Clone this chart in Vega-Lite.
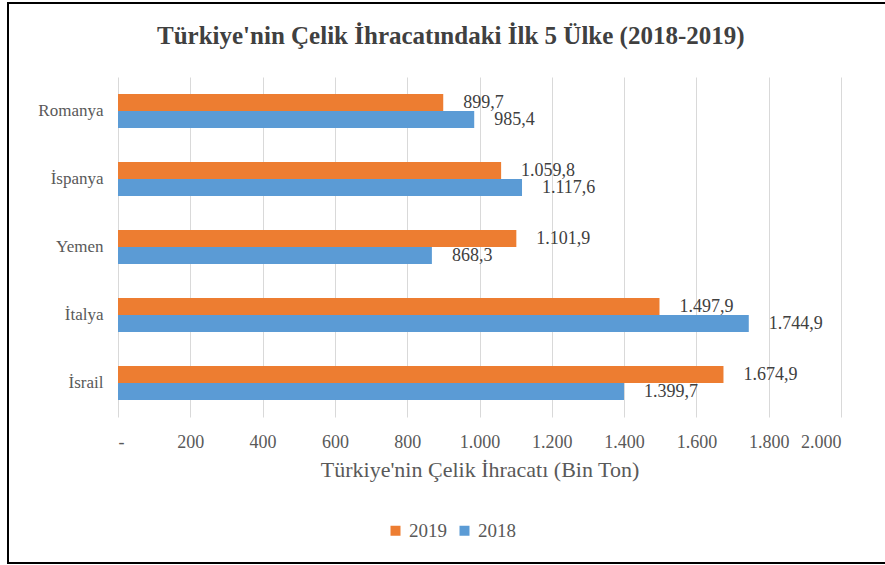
{
  "$schema": "https://vega.github.io/schema/vega-lite/v6.json",
  "autosize": "none",
  "width": 878,
  "height": 560,
  "padding": {"left": 8, "top": 3, "right": -1, "bottom": 2},
  "background": "white",
  "title": {
    "text": "Türkiye'nin Çelik İhracatındaki İlk 5 Ülke (2018-2019)",
    "font": "Liberation Serif",
    "fontSize": 25,
    "fontWeight": "bold",
    "color": "#404040",
    "anchor": "start",
    "dx": 149,
    "offset": -46
  },
  "data": {
    "values": [
      {"country": "Romanya", "year": "2019", "value": 899.7, "label": "899,7"},
      {"country": "Romanya", "year": "2018", "value": 985.4, "label": "985,4"},
      {"country": "İspanya", "year": "2019", "value": 1059.8, "label": "1.059,8"},
      {"country": "İspanya", "year": "2018", "value": 1117.6, "label": "1.117,6"},
      {"country": "Yemen", "year": "2019", "value": 1101.9, "label": "1.101,9"},
      {"country": "Yemen", "year": "2018", "value": 868.3, "label": "868,3"},
      {"country": "İtalya", "year": "2019", "value": 1497.9, "label": "1.497,9"},
      {"country": "İtalya", "year": "2018", "value": 1744.9, "label": "1.744,9"},
      {"country": "İsrail", "year": "2019", "value": 1674.9, "label": "1.674,9"},
      {"country": "İsrail", "year": "2018", "value": 1399.7, "label": "1.399,7"}
    ]
  },
  "encoding": {
    "y": {
      "field": "country",
      "type": "nominal",
      "sort": ["Romanya", "İspanya", "Yemen", "İtalya", "İsrail"],
      "scale": {"range": [74, 414], "paddingInner": 0.5, "paddingOuter": 0.25},
      "axis": {
        "title": null,
        "domain": false,
        "ticks": false,
        "grid": false,
        "offset": -95,
        "labelFont": "Liberation Serif",
        "labelFontSize": 17,
        "labelColor": "#595959",
        "labelPadding": 0
      }
    },
    "yOffset": {"field": "year", "type": "nominal", "sort": ["2019", "2018"]},
    "x": {
      "field": "value",
      "type": "quantitative",
      "scale": {"domain": [0, 2000], "nice": false, "range": [110, 833]}
    }
  },
  "layer": [
    {
      "mark": {"type": "bar"},
      "encoding": {
        "x": {
          "field": "value",
          "type": "quantitative",
          "axis": {
            "orient": "top",
            "values": [0, 200, 400, 600, 800, 1000, 1200, 1400, 1600, 1800, 2000],
            "title": null,
            "labels": false,
            "domain": false,
            "ticks": false,
            "grid": true,
            "gridColor": "#d9d9d9",
            "gridWidth": 1
          }
        },
        "color": {
          "field": "year",
          "type": "nominal",
          "sort": ["2019", "2018"],
          "scale": {"domain": ["2019", "2018"], "range": ["#ED7D31", "#5B9BD5"]},
          "legend": {
            "title": null,
            "orient": "none",
            "direction": "horizontal",
            "legendX": 378,
            "legendY": 518,
            "padding": 0,
            "symbolType": "square",
            "symbolSize": 100,
            "symbolStrokeWidth": 0,
            "labelFont": "Liberation Serif",
            "labelFontSize": 19,
            "labelColor": "#595959",
            "labelOffset": 4,
            "columnPadding": 8
          }
        }
      }
    },
    {
      "mark": {
        "type": "text",
        "align": "left",
        "baseline": "middle",
        "dx": 20,
        "font": "Liberation Serif",
        "fontSize": 18,
        "color": "#404040"
      },
      "encoding": {
        "x": {
          "field": "value",
          "type": "quantitative",
          "axis": {
            "orient": "bottom",
            "title": "Türkiye'nin Çelik İhracatı (Bin Ton)",
            "values": [0, 200, 400, 600, 800, 1000, 1200, 1400, 1600, 1800, 2000],
            "labelExpr": "datum.value == 0 ? '-' : replace(format(datum.value, ','), ',', '.')",
            "offset": -146,
            "domain": false,
            "ticks": false,
            "grid": false,
            "labelFont": "Liberation Serif",
            "labelFontSize": 18,
            "labelColor": "#595959",
            "labelPadding": 16,
            "titleFont": "Liberation Serif",
            "titleFontSize": 22,
            "titleFontWeight": "normal",
            "titleColor": "#595959",
            "titlePadding": 8
          }
        },
        "text": {"field": "label"}
      }
    }
  ],
  "resolve": {"axis": {"x": "independent"}},
  "config": {"view": {"stroke": "#000000", "strokeWidth": 2}}
}
